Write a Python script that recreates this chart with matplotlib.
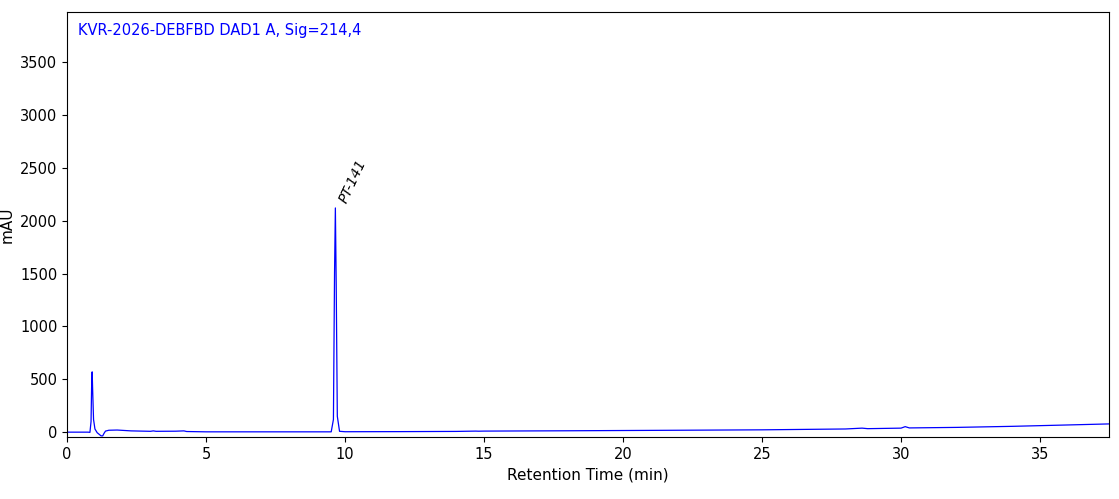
import matplotlib.pyplot as plt

# Trace points (min, mAU)
time_min = [0.0, 0.75, 0.82, 0.86, 0.88, 0.90, 0.92, 0.95, 1.0, 1.08, 1.15, 1.22, 1.28, 1.33,
            1.38, 1.5, 1.8, 2.3, 3.0, 3.1, 3.2, 3.9, 4.2, 4.3, 5.0, 8.0, 9.50, 9.58, 9.62,
            9.65, 9.68, 9.72, 9.80, 10.0, 12.0, 14.0, 14.7, 14.8, 15.0, 18.0, 22.0, 25.0,
            28.0, 28.6, 28.8, 30.0, 30.15, 30.3, 32.0, 34.0, 36.0, 37.5]
signal_mau = [0, 0, -2, 100, 420, 570, 380, 120, 30, -5, -20, -35, -35, -10,
              10, 18, 20, 12, 8, 12, 8, 9, 12, 6, 3, 3, 3, 120, 1500,
              2120, 1400, 150, 8, 4, 5, 7, 10, 9, 10, 13, 18, 22,
              30, 38, 33, 38, 52, 40, 45, 55, 68, 78]
peak_time = 9.65
peak_height = 2120
peak_label = "PT-141"
title_text = "KVR-2026-DEBFBD DAD1 A, Sig=214,4"

fig, ax = plt.subplots(figsize=(11.19, 4.99), dpi=100)
fig.subplots_adjust(left=0.06, right=0.991, top=0.976, bottom=0.124)

ax.plot(time_min, signal_mau, color="blue", linewidth=0.9)
ax.text(peak_time + 0.05, peak_height + 30, peak_label, rotation=65,
        fontsize=10, fontstyle="italic", ha="left", va="bottom")
ax.text(0.01, 0.975, title_text, transform=ax.transAxes, color="blue",
        fontsize=10.5, ha="left", va="top")

ax.set_xlim(0, 37.48)
ax.set_ylim(-47, 3973)
ax.set_xticks([0, 5, 10, 15, 20, 25, 30, 35])
ax.set_yticks([0, 500, 1000, 1500, 2000, 2500, 3000, 3500])
ax.set_xlabel("Retention Time (min)", fontsize=11)
ax.set_ylabel("mAU", fontsize=11)
ax.tick_params(labelsize=10.5)

fig.savefig("out.png", dpi=100)
